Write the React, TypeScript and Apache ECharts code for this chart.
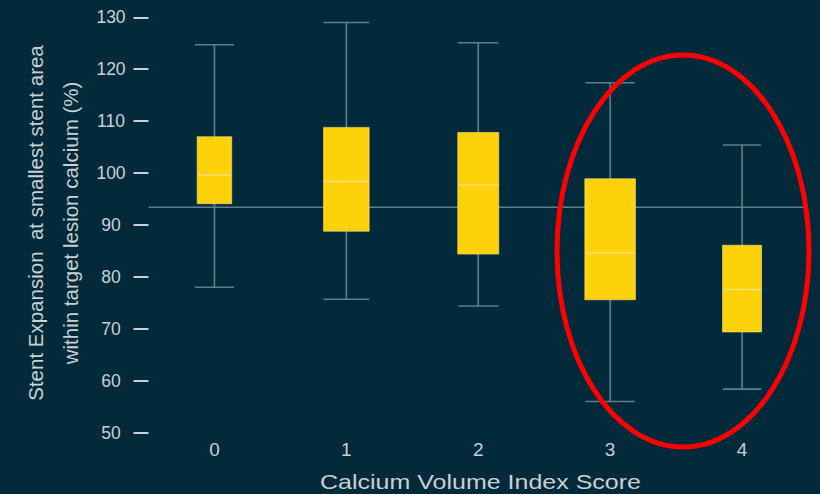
import React, { useEffect, useRef } from "react";
import * as echarts from "echarts";

// ---- data ----
const CATEGORIES = ["0", "1", "2", "3", "4"];
const WHISKER_LOW = [78.0, 75.7, 74.4, 56.0, 58.4];
const Q1 = [94.1, 88.8, 84.4, 75.6, 69.4];
const MEDIAN = [99.6, 98.4, 97.7, 84.6, 77.6];
const Q3 = [107.0, 108.8, 107.8, 98.9, 86.1];
const WHISKER_HIGH = [124.7, 129.0, 125.1, 117.4, 105.4];
const REFERENCE_VALUE = [93.4];
const Y_MIN = 50;
const Y_MAX = 130;
const Y_STEP = 10;

const Y_TITLE_1 = "Stent Expansion  at smallest stent area";
const Y_TITLE_2 = "within target lesion calcium (%)";
const X_TITLE = "Calcium Volume Index Score";

// ---- layout / style (not data) ----
const BOX_WIDTH_RATIO = [0.262, 0.346, 0.311, 0.384, 0.296];
const CAP_WIDTH_RATIO = [0.298, 0.346, 0.305, 0.374, 0.29];
const BG = "#032a3b";
const BOX_FILL = "#fdd20a";
const MEDIAN_COLOR = "#f6df72";
const WHISKER_COLOR = "#5f7e89";
const TEXT_COLOR = "#c9d1d5";
const FONT = "'Liberation Sans', Arial, sans-serif";

export default function App() {
  const ref = useRef<HTMLDivElement>(null);

  useEffect(() => {
    if (!ref.current) return;
    const chart = echarts.init(ref.current, undefined, { renderer: "svg" });

    const boxData = CATEGORIES.map((_, i) => [
      i,
      WHISKER_LOW[i],
      Q1[i],
      MEDIAN[i],
      Q3[i],
      WHISKER_HIGH[i],
    ]);

    const option: any = {
      animation: false,
      backgroundColor: BG,
      grid: { left: 148.5, right: 12, top: 17.3, bottom: 61.3 },
      xAxis: {
        type: "category",
        data: CATEGORIES,
        axisLine: { show: false },
        axisTick: { show: false },
        splitLine: { show: false },
        axisLabel: {
          color: TEXT_COLOR,
          fontSize: 19,
          fontFamily: FONT,
          margin: 7,
        },
      },
      yAxis: {
        type: "value",
        min: Y_MIN,
        max: Y_MAX,
        interval: Y_STEP,
        axisLine: { show: false },
        splitLine: { show: false },
        axisTick: {
          show: true,
          length: 15,
          lineStyle: { color: TEXT_COLOR, width: 2 },
        },
        axisLabel: {
          color: TEXT_COLOR,
          fontSize: 17.5,
          fontFamily: FONT,
          align: "center",
          margin: 37.5,
        },
      },
      series: [
        {
          type: "custom",
          name: "reference",
          z: 1,
          data: REFERENCE_VALUE.map((v) => [0, v]),
          encode: { x: 0, y: 1 },
          renderItem: (params: any, api: any) => {
            const cs = params.coordSys;
            const y = api.coord([0, api.value(1)])[1];
            return {
              type: "line",
              shape: { x1: cs.x, y1: y, x2: cs.x + cs.width - 3, y2: y },
              style: { stroke: WHISKER_COLOR, lineWidth: 1.5 },
              silent: true,
            };
          },
        },
        {
          type: "custom",
          name: "boxes",
          z: 2,
          data: boxData,
          encode: { x: 0, y: [1, 2, 3, 4, 5] },
          renderItem: (params: any, api: any) => {
            const i = params.dataIndex;
            const xi = api.value(0);
            const band = api.size([1, 0])[0];
            const cx = api.coord([xi, api.value(3)])[0];
            const yLow = api.coord([xi, api.value(1)])[1];
            const yQ1 = api.coord([xi, api.value(2)])[1];
            const yMed = api.coord([xi, api.value(3)])[1];
            const yQ3 = api.coord([xi, api.value(4)])[1];
            const yHigh = api.coord([xi, api.value(5)])[1];
            const w = band * BOX_WIDTH_RATIO[i];
            const cw = band * CAP_WIDTH_RATIO[i];
            const wStyle = { stroke: WHISKER_COLOR, lineWidth: 1.6 };
            return {
              type: "group",
              children: [
                {
                  type: "line",
                  shape: { x1: cx, y1: yHigh, x2: cx, y2: yLow },
                  style: wStyle,
                },
                {
                  type: "line",
                  shape: { x1: cx - cw / 2, y1: yHigh, x2: cx + cw / 2, y2: yHigh },
                  style: wStyle,
                },
                {
                  type: "line",
                  shape: { x1: cx - cw / 2, y1: yLow, x2: cx + cw / 2, y2: yLow },
                  style: wStyle,
                },
                {
                  type: "rect",
                  shape: { x: cx - w / 2, y: yQ3, width: w, height: yQ1 - yQ3 },
                  style: {
                    fill: BOX_FILL,
                    stroke: "rgba(250,230,120,0.6)",
                    lineWidth: 1,
                  },
                },
                {
                  type: "line",
                  shape: { x1: cx - w / 2 + 0.5, y1: yMed, x2: cx + w / 2 - 0.5, y2: yMed },
                  style: { stroke: MEDIAN_COLOR, lineWidth: 1.5 },
                },
              ],
            };
          },
        },
      ],
      graphic: [
        {
          type: "text",
          x: 35.5,
          y: 223,
          rotation: Math.PI / 2,
          style: {
            text: Y_TITLE_1,
            fill: TEXT_COLOR,
            fontSize: 20.5,
            fontFamily: FONT,
            align: "center",
            verticalAlign: "middle",
          },
        },
        {
          type: "text",
          x: 70.5,
          y: 223,
          rotation: Math.PI / 2,
          style: {
            text: Y_TITLE_2,
            fill: TEXT_COLOR,
            fontSize: 20.5,
            fontFamily: FONT,
            align: "center",
            verticalAlign: "middle",
          },
        },
        {
          type: "text",
          x: 480.5,
          y: 481.5,
          scaleX: 1.22,
          style: {
            text: X_TITLE,
            fill: TEXT_COLOR,
            fontSize: 20.5,
            fontFamily: FONT,
            align: "center",
            verticalAlign: "middle",
          },
        },
        {
          type: "ellipse",
          shape: { cx: 683, cy: 251, rx: 126, ry: 196 },
          style: { fill: "none", stroke: "#ff0000", lineWidth: 5 },
          z: 100,
        },
      ],
    };

    chart.setOption(option);
    return () => chart.dispose();
  }, []);

  return (
    <div
      ref={ref}
      style={{ position: "fixed", left: 0, top: 0, width: 820, height: 494 }}
    />
  );
}
